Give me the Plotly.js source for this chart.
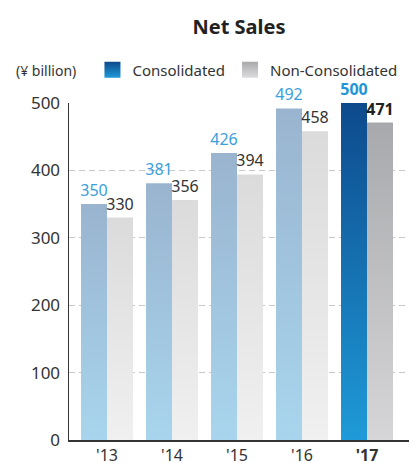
<!DOCTYPE html>
<html><head><meta charset="utf-8">
<script src="https://cdn.plot.ly/plotly-3.0.1.min.js"></script>
<style>html,body{margin:0;padding:0;background:#fff}#chart{width:409px;height:463px}</style>
</head><body><div id="chart"></div>
<script>
const years = ["'13", "'14", "'15", "'16", "'17"];
const tickLabels = ["'13", "'14", "'15", "'16", "<b>'17</b>"];
const consolidated = [350, 381, 426, 492, 500];
const nonConsolidated = [330, 356, 394, 458, 471];
const yTicks = [0, 100, 200, 300, 400, 500];

const FONT = 'Noto Sans, Open Sans, sans-serif';
const last = years.length - 1;
const tmpl = years.map((_, i) => i === last ? '<b>%{y}</b>' : '%{y}');

const traces = [
  {type: 'bar', name: 'Consolidated', x: years, y: consolidated,
   marker: {color: '#a3c4e0'},
   texttemplate: tmpl, textposition: 'outside', cliponaxis: false, constraintext: 'none',
   textfont: {family: FONT, size: 16, color: years.map((_, i) => i === last ? '#1f96d6' : '#3aa0dc')},
   hoverinfo: 'none'},
  {type: 'bar', name: 'Non-Consolidated', x: years, y: nonConsolidated,
   marker: {color: '#e4e4e5'},
   texttemplate: tmpl, textposition: 'outside', cliponaxis: false, constraintext: 'none',
   textfont: {family: FONT, size: 16, color: years.map((_, i) => i === last ? '#222' : '#333')},
   hoverinfo: 'none'}
];

const layout = {
  width: 409, height: 463,
  margin: {l: 69, r: 0, t: 103, b: 23},
  paper_bgcolor: '#fff', plot_bgcolor: '#fff',
  font: {family: FONT, color: '#333'},
  title: {text: '<b>Net Sales</b>', font: {family: FONT, size: 20, color: '#222'},
          x: 0.5, xref: 'paper', xanchor: 'center', y: 1 - 27/463, yref: 'container', yanchor: 'middle'},
  barmode: 'group', bargap: 0.2, bargroupgap: 0,
  xaxis: {type: 'category', range: [-0.585, 4.646], tickvals: years, ticktext: tickLabels,
          showline: true, linecolor: '#333', linewidth: 1.5, showgrid: false,
          ticks: '', ticklen: 0,
          tickfont: {family: FONT, size: 16, color: '#333'}, fixedrange: true},
  yaxis: {range: [0, 500], tickvals: yTicks, showline: true, linecolor: '#333', linewidth: 1.5,
          showgrid: true, gridcolor: '#c8c8c8', griddash: '6px,4px', gridwidth: 1, zeroline: false,
          ticks: 'outside', ticklen: 4, tickcolor: 'rgba(0,0,0,0)',
          tickfont: {family: FONT, size: 17, color: '#333'}, fixedrange: true},
  showlegend: true,
  legend: {orientation: 'h', x: 0.069, xanchor: 'left', y: 1 + 33/337, yanchor: 'middle',
           font: {family: FONT, size: 15, color: '#333'},
           bgcolor: 'rgba(0,0,0,0)', traceorder: 'normal'},
  annotations: [{text: '(¥ billion)', xref: 'paper', x: (14 - 69)/340, xanchor: 'left',
                 yref: 'paper', y: 1 + 33/337, yanchor: 'middle',
                 showarrow: false, font: {family: FONT, size: 14, color: '#333'}}]
};

function grad(defs, id, top, bottom) {
  const ns = 'http://www.w3.org/2000/svg';
  const g = document.createElementNS(ns, 'linearGradient');
  g.setAttribute('id', id);
  g.setAttribute('x1', '0'); g.setAttribute('y1', '0'); g.setAttribute('x2', '0'); g.setAttribute('y2', '1');
  [[0, top], [1, bottom]].forEach(([o, c]) => {
    const s = document.createElementNS(ns, 'stop');
    s.setAttribute('offset', o); s.setAttribute('stop-color', c);
    g.appendChild(s);
  });
  defs.appendChild(g);
}

function applyGradients(gd) {
  const svg = gd.querySelector('svg.main-svg');
  let defs = svg.querySelector('defs');
  if (!defs) { defs = document.createElementNS('http://www.w3.org/2000/svg', 'defs'); svg.insertBefore(defs, svg.firstChild); }
  grad(defs, 'gC', '#9ab4cf', '#a8d5ed');
  grad(defs, 'gC17', '#0d4a8c', '#1f9ad8');
  grad(defs, 'gN', '#dbdbdc', '#f0f0f0');
  grad(defs, 'gN17', '#a8a9ac', '#d6d6d8');
  grad(defs, 'gLN', '#a9a9ac', '#dcdcde');
  const tr = gd.querySelectorAll('.barlayer .trace');
  tr.forEach((t, ti) => {
    t.querySelectorAll('.point path').forEach((p, i) => {
      const id = ti === 0 ? (i === last ? 'gC17' : 'gC') : (i === last ? 'gN17' : 'gN');
      p.style.fill = 'url(#' + id + ')';
    });
  });
  gd.querySelectorAll('.legend .traces').forEach((t, ti) => {
    const p = t.querySelector('.legendpoints path');
    if (p) {
      p.setAttribute('d', 'M8,8H-8V-8H8Z');
      p.style.fill = 'url(#' + (ti === 0 ? 'gC17' : 'gLN') + ')';
      p.style.stroke = 'none';
    }
  });
}

const gd = document.getElementById('chart');
Plotly.newPlot(gd, traces, layout, {staticPlot: true, displayModeBar: false}).then(() => applyGradients(gd));
</script>
</body></html>
